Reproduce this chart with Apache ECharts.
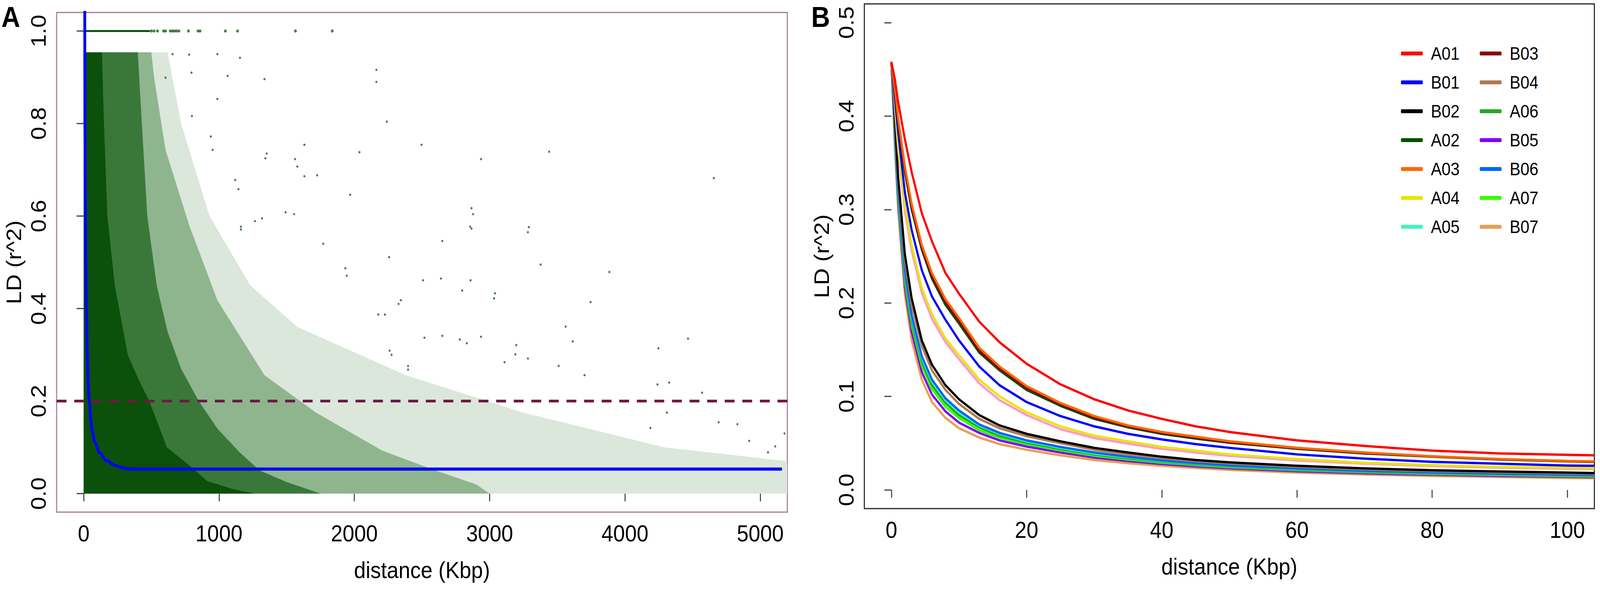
<!DOCTYPE html>
<html><head><meta charset="utf-8">
<script src="https://cdn.jsdelivr.net/npm/echarts@6/dist/echarts.min.js"></script>
<style>html,body{margin:0;padding:0;background:#fff;overflow:hidden}#c{width:4550px;height:1509px;transform-origin:0 0}</style>
</head><body><div id="c"></div>
<script>
// ---------- Panel A data ----------
const ldThreshold = 0.2;
const xTicksA = [0, 1000, 2000, 3000, 4000, 5000];
const yTicksA = [0, 0.2, 0.4, 0.6, 0.8, 1.0];
// x extent of each density level of the point cloud at a given r^2
const cloudSparse = [[0,0.954],[620,0.954],[720,0.8],[930,0.6],[1231,0.45],[1580,0.36],[2380,0.256],[3250,0.175],[4290,0.1],[5200,0.07]];
const cloudMedium = [[0,0.954],[500,0.954],[520,0.9],[605,0.743],[780,0.58],[988,0.418],[1336,0.256],[1718,0.175],[2205,0.093],[2600,0.05],[2900,0.02],[3000,0]];
const cloudDense  = [[0,0.954],[400,0.954],[420,0.85],[440,0.75],[470,0.6],[540,0.45],[620,0.35],[720,0.27],[850,0.2],[990,0.14],[1150,0.09],[1300,0.05],[1500,0.025],[1750,0]];
const cloudSolid  = [[0,0.954],[135,0.954],[140,0.9],[150,0.8],[175,0.6],[230,0.45],[326,0.3],[400,0.25],[485,0.2],[615,0.1],[814,0.053],[913,0.027],[1100,0.01],[1262,0]];
const rowAtOne = [[0,1.0],[489,1.0]];
const dotsAtOne = [500,520,545,590,605,640,655,670,686,704,774,845,860,1047,1137,1565,1837];
const outliers = [[657,0.950],[779,0.949],[988,0.950],[1155,0.942],[797,0.910],[1064,0.903],[1336,0.896],[2163,0.916],[2163,0.890],[605,0.899],[2240,0.804],[988,0.853],[800,0.816],[939,0.772],[953,0.743],[1353,0.735],[1343,0.725],[1631,0.754],[2038,0.738],[2497,0.754],[2936,0.723],[3440,0.739],[4657,0.682],[1562,0.723],[1579,0.707],[1631,0.686],[1725,0.688],[1120,0.678],[1144,0.658],[1969,0.646],[2866,0.617],[2877,0.604],[2856,0.577],[2866,0.573],[1492,0.608],[1555,0.604],[1162,0.577],[1162,0.571],[1266,0.589],[1318,0.595],[1770,0.540],[3290,0.576],[3283,0.565],[2650,0.546],[2257,0.511],[3377,0.495],[3885,0.479],[1934,0.487],[1944,0.471],[2508,0.461],[2640,0.465],[2859,0.461],[2797,0.439],[3040,0.433],[3033,0.422],[3746,0.414],[2344,0.418],[2327,0.410],[2177,0.387],[2226,0.387],[3562,0.361],[4466,0.335],[4247,0.314],[3614,0.329],[3197,0.321],[3190,0.301],[3283,0.292],[3110,0.284],[2779,0.333],[2831,0.325],[2936,0.339],[2518,0.337],[2650,0.341],[2397,0.276],[2397,0.268],[2261,0.309],[2275,0.300],[3510,0.276],[3701,0.256],[4240,0.236],[4327,0.240],[4570,0.218],[4310,0.175],[4188,0.142],[4692,0.154],[4831,0.150],[5179,0.130],[5110,0.102],[5057,0.089],[4918,0.114]];
const decayFitA = [[8,1.05],[9,0.8],[11,0.65],[15,0.5],[20,0.4],[25,0.31],[31,0.25],[38,0.21],[44,0.19],[52,0.16],[62,0.137],[83,0.111],[117,0.0885],[167,0.0716],[237,0.0604],[290,0.0555],[340,0.053],[5160,0.053]];

// ---------- Panel B data ----------
const xTicksB = [0, 20, 40, 60, 80, 100];
const yTicksB = [0, 0.1, 0.2, 0.3, 0.4, 0.5];
const distB = [0,0.5,1,2,3,4.5,6,8,10,13,16,20,25,30,35,40,45,50,60,70,80,90,100,104];
const A01 = [.458,.44,.415,.375,.340,.296,.266,.232,.210,.180,.158,.135,.113,.097,.085,.076,.068,.062,.053,.047,.042,.039,.0375,.037];
const A03 = [.458,.43,.398,.346,.306,.262,.232,.204,.184,.152,.132,.111,.093,.079,.069,.062,.057,.052,.045,.040,.036,.033,.031,.0305];
const B03 = [.458,.429,.395,.343,.303,.259,.229,.201,.181,.149,.130,.109,.0915,.0775,.068,.061,.056,.051,.0445,.0395,.0358,.0328,.0308,.0302];
const A02 = [.458,.428,.393,.340,.300,.257,.226,.198,.178,.147,.128,.107,.090,.076,.067,.060,.055,.0505,.044,.039,.0355,.0325,.0305,.030];
const B01 = [.458,.42,.383,.318,.278,.235,.207,.182,.160,.132,.112,.094,.079,.068,.060,.054,.049,.045,.038,.0335,.030,.028,.026,.0258];
const A04 = [.458,.415,.370,.305,.262,.216,.188,.162,.144,.118,.100,.083,.068,.058,.052,.046,.042,.038,.033,.029,.0265,.0247,.0236,.0233];
const extraPink = [.458,.41,.364,.298,.256,.211,.183,.158,.140,.114,.096,.080,.065,.0555,.0495,.044,.040,.0365,.0315,.028,.0255,.0237,.0226,.0222];
const B02 = [.458,.40,.335,.252,.205,.160,.134,.112,.097,.080,.069,.060,.052,.045,.040,.0355,.032,.0295,.0258,.023,.021,.0197,.0185,.018];
const B04 = [.458,.3955,.330,.245,.198,.154,.128,.107,.092,.076,.066,.0575,.050,.043,.038,.034,.0307,.0283,.0247,.022,.0201,.0188,.0176,.0172];
const B06 = [.458,.388,.321,.234,.187,.143,.118,.098,.085,.070,.061,.053,.046,.040,.0354,.0316,.0286,.0263,.0229,.0204,.0186,.0173,.0162,.0158];
const A05 = [.458,.3865,.319,.232,.185,.141,.116,.096,.083,.069,.060,.052,.045,.039,.0348,.0311,.0282,.0259,.0225,.0201,.0183,.017,.0159,.0155];
const A06 = [.458,.3835,.316,.228,.180,.137,.112,.093,.080,.067,.058,.0506,.0438,.0379,.0337,.0302,.0273,.0251,.0218,.0194,.0177,.0165,.0154,.015];
const A07 = [.458,.3805,.312,.223,.176,.133,.108,.089,.077,.064,.056,.049,.0423,.0366,.0325,.0292,.0265,.0243,.0211,.0188,.0171,.0159,.0148,.0144];
const B05 = [.458,.376,.307,.217,.169,.126,.102,.084,.072,.061,.053,.0464,.040,.0346,.0308,.0277,.0252,.0231,.0200,.0178,.0162,.015,.014,.0136];
const B07 = [.458,.37,.30,.208,.160,.118,.094,.077,.066,.056,.049,.043,.037,.032,.0285,.0258,.0235,.0215,.0185,.0165,.015,.0138,.0128,.0125];
const legendCol1 = ['A01','B01','B02','A02','A03','A04','A05'];
const legendCol2 = ['B03','B04','A06','B05','B06','A07','B07'];

// ---------- build ----------
const FONT = 'Liberation Sans';
const el = document.getElementById('c');
// the page is laid out at 4550x1509 and fitted to the actual viewport
const fitX = window.innerWidth / 4550, fitY = window.innerHeight / 1509;
el.style.transform = 'scale(' + fitX + ',' + fitY + ')';
const curves = [
  ['B07', B07, '#E9A050'], ['B05', B05, '#7F00FF'], ['A07', A07, '#33FF00'], ['A06', A06, '#22AA22'],
  ['A05', A05, '#40F5C5'], ['B06', B06, '#0066FF'], ['B04', B04, '#B07850'], ['B02', B02, '#000000'],
  ['pink', extraPink, '#FF99CC'], ['A04', A04, '#E6E600'], ['B01', B01, '#0000FF'], ['A02', A02, '#005000'],
  ['B03', B03, '#8B0000'], ['A03', A03, '#FF6600'], ['A01', A01, '#FF0000']
];
const chart = echarts.init(el, null, {renderer: 'svg', width: 4550, height: 1509});
const axisCommon = (ticks, fmt, isY) => ({
  splitLine: {show: false},
  axisLine: {show: false},
  axisTick: {show: true, inside: false, length: 20, customValues: ticks, lineStyle: {color: '#444', width: 3}},
  axisLabel: {show: true, customValues: ticks, formatter: fmt, fontSize: 60, color: '#000', fontFamily: FONT,
              margin: isY ? 22 : 24, rotate: isY ? 90 : 0}
});
const areaLayer = (data, color) => ({
  type: 'line', xAxisIndex: 0, yAxisIndex: 0, data, showSymbol: false, symbol: 'none', silent: true,
  lineStyle: {width: 0, color}, areaStyle: {color, opacity: 1, origin: 'auto'}, z: 2
});
const series = [
  areaLayer(cloudSparse, '#dbe7db'),
  areaLayer(cloudMedium, '#8fb58f'),
  areaLayer(cloudDense, '#3a783a'),
  areaLayer(cloudSolid, '#0b500b'),
  {type: 'scatter', xAxisIndex: 0, yAxisIndex: 0, data: outliers, symbolSize: 6, itemStyle: {color: '#1d601d'}, silent: true, z: 3},
  {type: 'scatter', xAxisIndex: 0, yAxisIndex: 0, data: dotsAtOne.map(x => [x, 1.0]), symbolSize: 8, itemStyle: {color: '#1d601d'}, silent: true, z: 3},
  {type: 'line', xAxisIndex: 0, yAxisIndex: 0, data: rowAtOne, showSymbol: false, symbol: 'none', lineStyle: {color: '#0b500b', width: 5}, silent: true, z: 3},
  {type: 'line', xAxisIndex: 0, yAxisIndex: 0, data: decayFitA, showSymbol: false, symbol: 'none', smooth: 0.3, smoothMonotone: 'x', lineStyle: {color: '#0000FF', width: 8}, silent: true, z: 4},
  {type: 'line', xAxisIndex: 0, yAxisIndex: 0, data: [[-200, ldThreshold], [5200, ldThreshold]], showSymbol: false, symbol: 'none', lineStyle: {color: '#701846', width: 7, type: [28, 22]}, silent: true, z: 5}
];
curves.forEach(([name, vals, color]) => {
  series.push({
    name, type: 'line', xAxisIndex: 1, yAxisIndex: 1, data: distB.map((x, i) => [x, vals[i]]),
    showSymbol: false, symbol: 'none', smooth: false, color,
    lineStyle: {color, width: 6, join: 'round'}, itemStyle: {color}, silent: true
  });
});
const legendBase = (data, left) => ({
  data, orient: 'vertical', left, top: 104, itemWidth: 62, itemHeight: 10, icon: 'roundRect',
  itemGap: 18, selectedMode: false,
  textStyle: {fontSize: 46, fontFamily: FONT, color: '#000', lineHeight: 56, padding: [0, 0, 0, 18]}
});
chart.setOption({
  animation: false,
  backgroundColor: '#fff',
  grid: [
    {left: 161, top: 32, width: 2078, height: 1280, show: true, borderColor: '#A6799A', borderWidth: 3, backgroundColor: 'transparent'},
    {left: 2458, top: 10, width: 2076, height: 1293, show: true, borderColor: '#222', borderWidth: 3, backgroundColor: 'transparent'}
  ],
  xAxis: [
    Object.assign({type: 'value', gridIndex: 0, min: -200, max: 5200, name: 'distance (Kbp)', nameLocation: 'middle', nameGap: 118,
      nameTextStyle: {fontSize: 60, fontFamily: FONT, color: '#000'}}, axisCommon(xTicksA, v => String(v), false)),
    Object.assign({type: 'value', gridIndex: 1, min: -4, max: 104, name: 'distance (Kbp)', nameLocation: 'middle', nameGap: 118,
      nameTextStyle: {fontSize: 60, fontFamily: FONT, color: '#000'}}, axisCommon(xTicksB, v => String(v), false))
  ],
  yAxis: [
    Object.assign({type: 'value', gridIndex: 0, min: -0.04, max: 1.04, name: 'LD (r^2)', nameLocation: 'middle', nameGap: 92, nameRotate: 90,
      nameTextStyle: {fontSize: 60, fontFamily: FONT, color: '#000'}}, axisCommon(yTicksA, v => v.toFixed(1), true)),
    Object.assign({type: 'value', gridIndex: 1, min: -0.02, max: 0.52, name: 'LD (r^2)', nameLocation: 'middle', nameGap: 92, nameRotate: 90,
      nameTextStyle: {fontSize: 60, fontFamily: FONT, color: '#000'}}, axisCommon(yTicksB, v => v.toFixed(1), true))
  ],
  legend: [legendBase(legendCol1, 3979), legendBase(legendCol2, 4203)],
  graphic: [
    {type: 'text', left: 4, top: 6, style: {text: 'A', fontSize: 74, fontWeight: 'bold', fontFamily: FONT, fill: '#000'}},
    {type: 'text', left: 2307, top: 6, style: {text: 'B', fontSize: 74, fontWeight: 'bold', fontFamily: FONT, fill: '#000'}}
  ],
  series
});
</script></body></html>
